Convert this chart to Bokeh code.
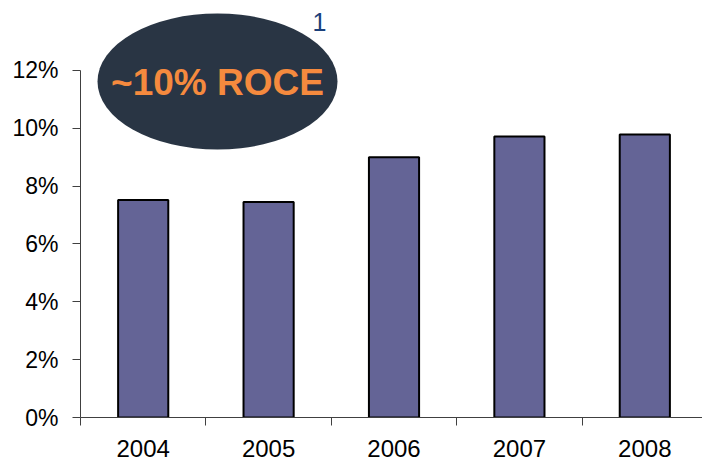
from bokeh.plotting import figure
from bokeh.models import Range1d, FixedTicker, PrintfTickFormatter, Label, ColumnDataSource
from bokeh.embed import file_html
from bokeh.resources import INLINE

years = ["2004", "2005", "2006", "2007", "2008"]
roce = [7.52, 7.45, 9.0, 9.72, 9.79]
y_ticks = [0, 2, 4, 6, 8, 10, 12]
callout_text = "~10% ROCE"
footnote = "1"

x_pos = [i + 0.5 for i in range(len(years))]
src = ColumnDataSource(dict(x=x_pos, top=roce, year=years))

p = figure(width=702, height=467, output_backend="svg", toolbar_location=None,
           x_range=Range1d(0, 4.96), y_range=Range1d(0, 14.42),
           min_border_left=80, min_border_right=0, min_border_top=0, min_border_bottom=50)
p.outline_line_color = None
p.grid.grid_line_color = None
p.background_fill_color = "white"
p.border_fill_color = "white"

p.vbar(x="x", top="top", bottom=0, width=0.4, source=src,
       fill_color="#646496", line_color="black", line_width=2)

# callout ellipse and texts
p.ellipse(x=1.0925, y=11.62, width=240, height=136, width_units="screen", height_units="screen",
          fill_color="#293544", line_color=None)
p.add_layout(Label(x=1.0925, y=11.57, text=callout_text, text_align="center", text_baseline="middle",
                   text_font="Liberation Sans", text_font_style="bold", text_font_size="37px",
                   text_color="#f58a3e"))
p.add_layout(Label(x=1.906, y=13.69, text=footnote, text_align="center", text_baseline="middle",
                   text_font="Liberation Sans", text_font_size="25px", text_color="#1a3f7a"))

# y axis
ya = p.yaxis[0]
ya.ticker = FixedTicker(ticks=y_ticks, minor_ticks=[])
ya.formatter = PrintfTickFormatter(format="%d%%")
ya.bounds = (0, 12)
ya.axis_line_color = "#404040"
ya.major_tick_line_color = "#404040"
ya.major_tick_out = 8
ya.major_tick_in = 0
ya.minor_tick_line_color = None
ya.major_label_standoff = 14
ya.major_label_text_font = "Liberation Sans"
ya.major_label_text_font_size = "23px"
ya.major_label_text_color = "black"

# x axis
xa = p.xaxis[0]
xa.ticker = FixedTicker(ticks=x_pos, minor_ticks=list(range(len(years) + 1)))
xa.major_label_overrides = {x: y for x, y in zip(x_pos, years)}
xa.axis_line_color = "#404040"
xa.major_tick_line_color = None
xa.major_tick_out = 8
xa.major_tick_in = 0
xa.minor_tick_line_color = "#404040"
xa.minor_tick_out = 8
xa.minor_tick_in = 0
xa.major_label_standoff = 14
xa.major_label_text_font = "Liberation Sans"
xa.major_label_text_font_size = "24px"
xa.major_label_text_color = "black"

open("out.html", "w").write(file_html(p, INLINE))
